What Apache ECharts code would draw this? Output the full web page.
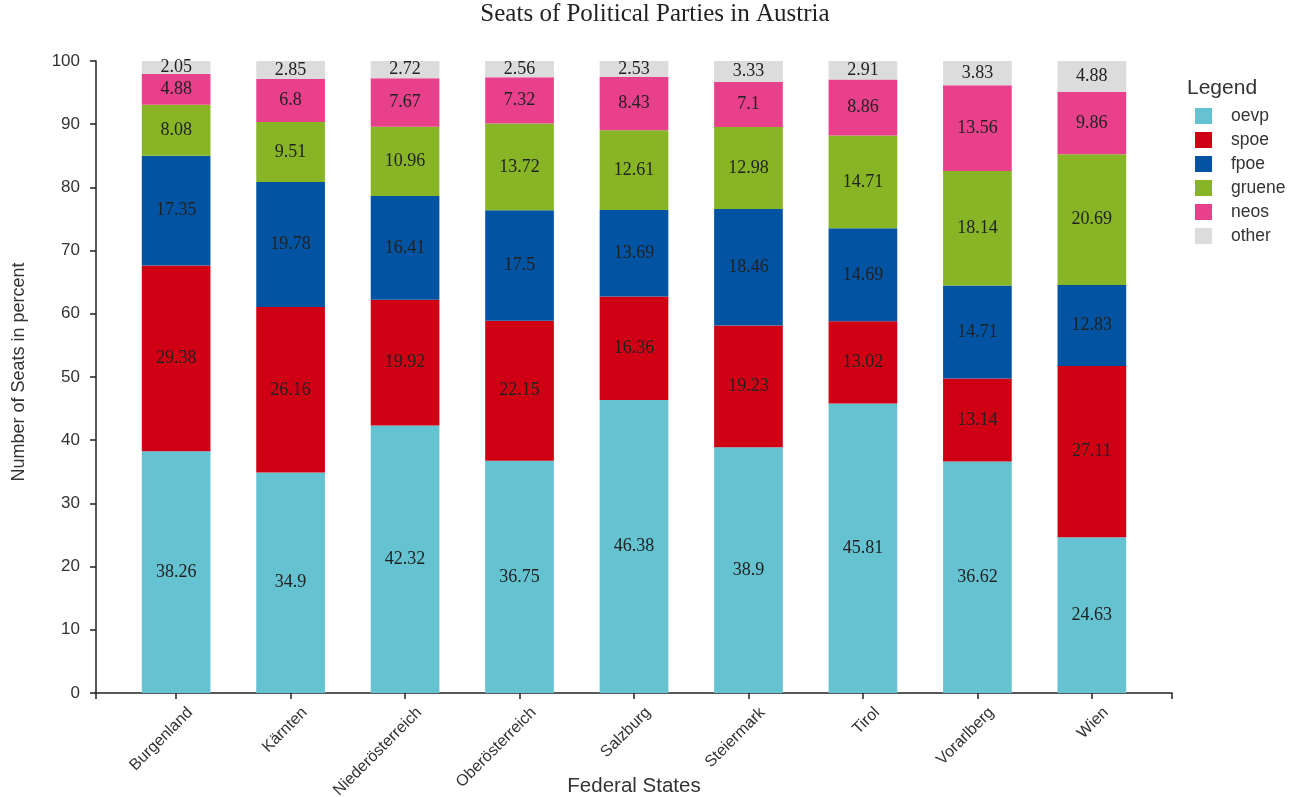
<!DOCTYPE html>
<html>
<head>
<meta charset="utf-8">
<script src="https://cdn.jsdelivr.net/npm/echarts@6/dist/echarts.min.js"></script>
<style>
html,body{margin:0;padding:0;background:#fff;}
#chart{width:1290px;height:797px;}
</style>
</head>
<body>
<div id="chart"></div>
<script>
const states = ["Burgenland","Kärnten","Niederösterreich","Oberösterreich","Salzburg","Steiermark","Tirol","Vorarlberg","Wien"];
const parties = ["oevp","spoe","fpoe","gruene","neos","other"];
const oevp   = [38.26, 34.9, 42.32, 36.75, 46.38, 38.9, 45.81, 36.62, 24.63];
const spoe   = [29.38, 26.16, 19.92, 22.15, 16.36, 19.23, 13.02, 13.14, 27.11];
const fpoe   = [17.35, 19.78, 16.41, 17.5, 13.69, 18.46, 14.69, 14.71, 12.83];
const gruene = [8.08, 9.51, 10.96, 13.72, 12.61, 12.98, 14.71, 18.14, 20.69];
const neos   = [4.88, 6.8, 7.67, 7.32, 8.43, 7.1, 8.86, 13.56, 9.86];
const other  = [2.05, 2.85, 2.72, 2.56, 2.53, 3.33, 2.91, 3.83, 4.88];
const yTicks = {min: 0, max: 100, interval: 10};

const values = [oevp, spoe, fpoe, gruene, neos, other];
const colors = ["#65C2D1", "#CF0013", "#0254A3", "#87B525", "#E8408A", "#DCDCDC"];

const chart = echarts.init(document.getElementById('chart'));
const axisColor = '#222';
chart.setOption({
  animation: false,
  title: [
    {text: 'Seats of Political Parties in Austria', left: 655, textAlign: 'center', top: 2, padding: 0,
     textStyle: {fontFamily: 'Liberation Serif', fontSize: 25, fontWeight: 'normal', color: '#222'}},
    {text: 'Legend', left: 1182, top: 73,
     textStyle: {fontFamily: 'Liberation Sans', fontSize: 21, fontWeight: 'normal', color: '#333'}}
  ],
  legend: {
    orient: 'vertical', left: 1190, top: 102,
    icon: 'rect', itemWidth: 17, itemHeight: 16, itemGap: 6,
    data: parties,
    textStyle: {fontFamily: 'Liberation Sans', fontSize: 17.5, color: '#333', padding: [0,0,0,14]}
  },
  grid: [
    {left: 96, right: 118, top: 61, bottom: 104, containLabel: false, outerBoundsMode: 'none'},
    {left: 118.9, right: 140.9, top: 61, bottom: 104, containLabel: false, outerBoundsMode: 'none'}
  ],
  xAxis: [
    {gridIndex: 0, type: 'value', min: 0, max: 1, interval: 1,
     axisLine: {show: true, lineStyle: {color: axisColor, width: 1.5}},
     axisTick: {show: true, length: 6, lineStyle: {color: axisColor, width: 1.5}},
     axisLabel: {show: false}, splitLine: {show: false},
     name: 'Federal States', nameLocation: 'middle', nameGap: 83,
     nameTextStyle: {fontFamily: 'Liberation Sans', fontSize: 20.5, color: '#333'}},
    {gridIndex: 1, type: 'category', data: states,
     axisLine: {show: false},
     axisTick: {show: true, alignWithLabel: true, length: 6, lineStyle: {color: axisColor, width: 1.5}},
     axisLabel: {rotate: 45, margin: 3, verticalAlign: 'top', lineHeight: 40,
                 fontFamily: 'Liberation Sans', fontSize: 16, color: '#333'}}
  ],
  yAxis: [
    {gridIndex: 0, type: 'value', min: yTicks.min, max: yTicks.max, interval: yTicks.interval,
     axisLine: {show: true, lineStyle: {color: axisColor, width: 1.5}},
     axisTick: {show: true, length: 6, lineStyle: {color: axisColor, width: 1.5}},
     axisLabel: {fontFamily: 'Liberation Sans', fontSize: 17, color: '#333', margin: 16},
     splitLine: {show: false},
     name: 'Number of Seats in percent', nameLocation: 'middle', nameGap: 68,
     nameTextStyle: {fontFamily: 'Liberation Sans', fontSize: 18, color: '#333', padding: [0,0,0,10]}},
    {gridIndex: 1, type: 'value', min: yTicks.min, max: yTicks.max, interval: yTicks.interval, show: false}
  ],
  series: parties.map((p, i) => ({
    name: p, type: 'bar', stack: 'total', xAxisIndex: 1, yAxisIndex: 1,
    barWidth: '60%', data: values[i],
    itemStyle: {color: colors[i]},
    label: {show: true, position: 'inside', fontFamily: 'Liberation Serif', fontSize: 18, color: '#222'}
  }))
});
</script>
</body>
</html>
